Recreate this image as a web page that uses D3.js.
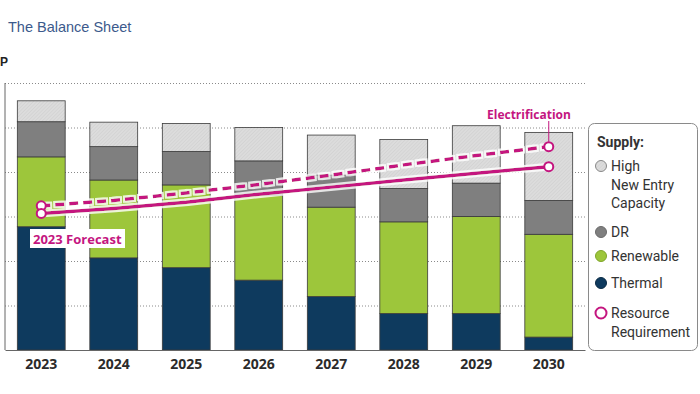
<!DOCTYPE html>
<html>
<head>
<meta charset="utf-8">
<script src="https://cdn.jsdelivr.net/npm/d3@7"></script>
<style>
  body { margin: 0; background: #fff; }
  svg { display: block; }
</style>
</head>
<body>
<div id="chart"></div>
<script>
// Chart data (units = gridline steps x10)
const years = ["2023", "2024", "2025", "2026", "2027", "2028", "2029", "2030"];
const thermal = [27.7, 20.7, 18.5, 15.7, 12.0, 8.2, 8.2, 2.9];
const renewable = [15.7, 17.5, 18.6, 19.1, 20.1, 20.6, 21.8, 23.1];
const dr = [7.9, 7.5, 7.5, 7.7, 7.2, 7.5, 7.5, 7.6];
const highNew = [4.7, 5.5, 6.3, 7.5, 9.0, 11.0, 12.9, 15.3];
const reqForecast = [30.7, 31.8, 33.2, 35.0, 36.6, 38.2, 39.7, 41.2];
const reqElectrification = [32.4, 33.6, 35.3, 37.2, 39.3, 41.6, 43.7, 45.7];
const gridTicks = [10, 20, 30, 40, 50, 60];

const width = 700;
const height = 394;
const margin = { top: 83, right: 115, bottom: 44, left: 5 };

const svg = d3
  .select("#chart")
  .append("svg")
  .attr("width", width)
  .attr("height", height);

// fine hatch for the high new entry block
const defs = svg.append("defs");
const pat = defs
  .append("pattern")
  .attr("id", "hatch")
  .attr("patternUnits", "userSpaceOnUse")
  .attr("width", 2.5)
  .attr("height", 2.5)
  .attr("patternTransform", "rotate(45)");
pat.append("rect").attr("width", 2.5).attr("height", 2.5).attr("fill", "#dcdcdc");
pat.append("line").attr("x1", 0).attr("y1", 0).attr("x2", 0).attr("y2", 2.5)
  .attr("stroke", "#cbcbcb").attr("stroke-width", 0.9);

// white halo round the requirement lines
const glow = defs.append("filter").attr("id", "halo");
glow.append("feMorphology").attr("in", "SourceAlpha").attr("operator", "dilate").attr("radius", 1.5).attr("result", "d");
glow.append("feFlood").attr("flood-color", "#fff").attr("flood-opacity", 0.8);
glow.append("feComposite").attr("in2", "d").attr("operator", "in").attr("result", "w");
const merge = glow.append("feMerge");
merge.append("feMergeNode").attr("in", "w");
merge.append("feMergeNode").attr("in", "SourceGraphic");

// Title
svg.append("text")
  .attr("x", 8)
  .attr("y", 32)
  .attr("font-family", "Liberation Sans, Arial, sans-serif")
  .attr("font-size", "14.5px")
  .attr("fill", "#3c5a8c")
  .text("The Balance Sheet");

svg.append("text")
  .attr("x", 0)
  .attr("y", 66)
  .attr("font-family", "Liberation Sans, Arial, sans-serif")
  .attr("font-weight", "bold")
  .attr("font-size", "12px")
  .attr("fill", "#222")
  .text("P");

// Scales
const x = d3
  .scaleBand()
  .domain(years)
  .range([margin.left, width - margin.right])
  .paddingInner(0.34)
  .paddingOuter(0.17);

const y = d3
  .scaleLinear()
  .domain([0, 60])
  .range([height - margin.bottom, margin.top]);

// Gridlines
svg.append("g")
  .selectAll("line")
  .data(gridTicks)
  .join("line")
  .attr("x1", margin.left)
  .attr("x2", width - margin.right)
  .attr("y1", (d) => y(d) + 0.5)
  .attr("y2", (d) => y(d) + 0.5)
  .attr("stroke", "#8a8a8a")
  .attr("stroke-width", 1)
  .attr("stroke-dasharray", "1,2");

// Stack
const rows = years.map((yr, i) => ({
  year: yr,
  thermal: thermal[i],
  renewable: renewable[i],
  dr: dr[i],
  high: highNew[i],
}));
const keys = ["thermal", "renewable", "dr", "high"];
const fills = { thermal: "#0e3a5e", renewable: "#9dc63b", dr: "#7f7f7f", high: "url(#hatch)" };
const stacked = d3.stack().keys(keys)(rows);

svg.append("g")
  .selectAll("g")
  .data(stacked)
  .join("g")
  .attr("fill", (d) => fills[d.key])
  .selectAll("rect")
  .data((d) => d)
  .join("rect")
  .attr("x", (d) => x(d.data.year))
  .attr("y", (d) => y(d[1]))
  .attr("width", x.bandwidth())
  .attr("height", (d) => y(d[0]) - y(d[1]))
  .attr("stroke", "#3a3a3a")
  .attr("stroke-width", 0.8);

// Axes lines
svg.append("line")
  .attr("x1", margin.left).attr("x2", margin.left)
  .attr("y1", margin.top).attr("y2", y(0))
  .attr("stroke", "#666").attr("stroke-width", 1);

const xAxis = svg.append("g")
  .attr("transform", `translate(0,${y(0)})`)
  .call(d3.axisBottom(x).tickSize(0).tickPadding(9));
xAxis.select(".domain").attr("stroke", "#666");
xAxis.selectAll("text")
  .attr("font-family", "Open Sans, sans-serif")
  .attr("font-weight", "bold")
  .attr("font-size", "14px")
  .attr("fill", "#2b2b2b");

// Resource requirement lines
const magenta = "#c4157f";
const cx = (i) => x(years[i]) + x.bandwidth() / 2;
const line = d3.line().x((d, i) => cx(i)).y((d) => y(d));

const lines = svg.append("g").attr("filter", "url(#halo)");
lines.append("path")
  .datum(reqElectrification)
  .attr("d", line)
  .attr("fill", "none")
  .attr("stroke", magenta)
  .attr("stroke-width", 3.5)
  .attr("stroke-dasharray", "9,5");
lines.append("path")
  .datum(reqForecast)
  .attr("d", line)
  .attr("fill", "none")
  .attr("stroke", magenta)
  .attr("stroke-width", 3.5);

const last = years.length - 1;
// leader line for Electrification label
svg.append("line")
  .attr("x1", cx(last)).attr("x2", cx(last))
  .attr("y1", 121).attr("y2", y(reqElectrification[last]) - 5)
  .attr("stroke", magenta).attr("stroke-width", 1);

const ends = [
  [0, reqElectrification[0]],
  [0, reqForecast[0]],
  [last, reqElectrification[last]],
  [last, reqForecast[last]],
];
svg.append("g")
  .selectAll("circle")
  .data(ends)
  .join("circle")
  .attr("cx", (d) => cx(d[0]))
  .attr("cy", (d) => y(d[1]))
  .attr("r", 4.5)
  .attr("fill", "#fff")
  .attr("stroke", magenta)
  .attr("stroke-width", 2);

// Annotations
const fc = svg.append("g");
fc.append("rect")
  .attr("x", 30).attr("y", 229).attr("width", 95).attr("height", 19)
  .attr("fill", "#fff");
fc.append("text")
  .attr("x", 33).attr("y", 244)
  .attr("font-family", "Open Sans, sans-serif")
  .attr("font-weight", "bold")
  .attr("font-size", "13px")
  .attr("fill", magenta)
  .text("2023 Forecast");

svg.append("text")
  .attr("x", 487).attr("y", 119)
  .attr("font-family", "Open Sans, sans-serif")
  .attr("font-weight", "bold")
  .attr("font-size", "12px")
  .attr("fill", magenta)
  .text("Electrification");

// Legend
const lg = svg.append("g");
lg.append("rect")
  .attr("x", 588.5).attr("y", 123.5).attr("width", 109).attr("height", 227)
  .attr("rx", 6)
  .attr("fill", "#fff")
  .attr("stroke", "#8a8a8a");

const lf = "Roboto, sans-serif";
lg.append("text")
  .attr("x", 597).attr("y", 147)
  .attr("font-family", lf).attr("font-weight", "bold")
  .attr("font-size", "14px").attr("fill", "#333")
  .text("Supply:");

const legendItems = [
  { lines: ["High", "New Entry", "Capacity"], y: 166, fill: "url(#hatch)", stroke: "#888" },
  { lines: ["DR"], y: 232, fill: "#7f7f7f", stroke: "#6a6a6a" },
  { lines: ["Renewable"], y: 256, fill: "#9dc63b", stroke: "#7fa52a" },
  { lines: ["Thermal"], y: 283, fill: "#0e3a5e", stroke: "#0a2a44" },
  { lines: ["Resource", "Requirement"], y: 313, fill: "#fff", stroke: magenta },
];
legendItems.forEach((it) => {
  lg.append("circle")
    .attr("cx", 601).attr("cy", it.y)
    .attr("r", 5.5)
    .attr("fill", it.fill)
    .attr("stroke", it.stroke)
    .attr("stroke-width", it.fill === "#fff" ? 2 : 1);
  it.lines.forEach((t, j) => {
    lg.append("text")
      .attr("x", 611).attr("y", it.y + 5 + j * 18.5)
      .attr("font-family", lf)
      .attr("font-size", "14px").attr("fill", "#333")
      .text(t);
  });
});
</script>
</body>
</html>
